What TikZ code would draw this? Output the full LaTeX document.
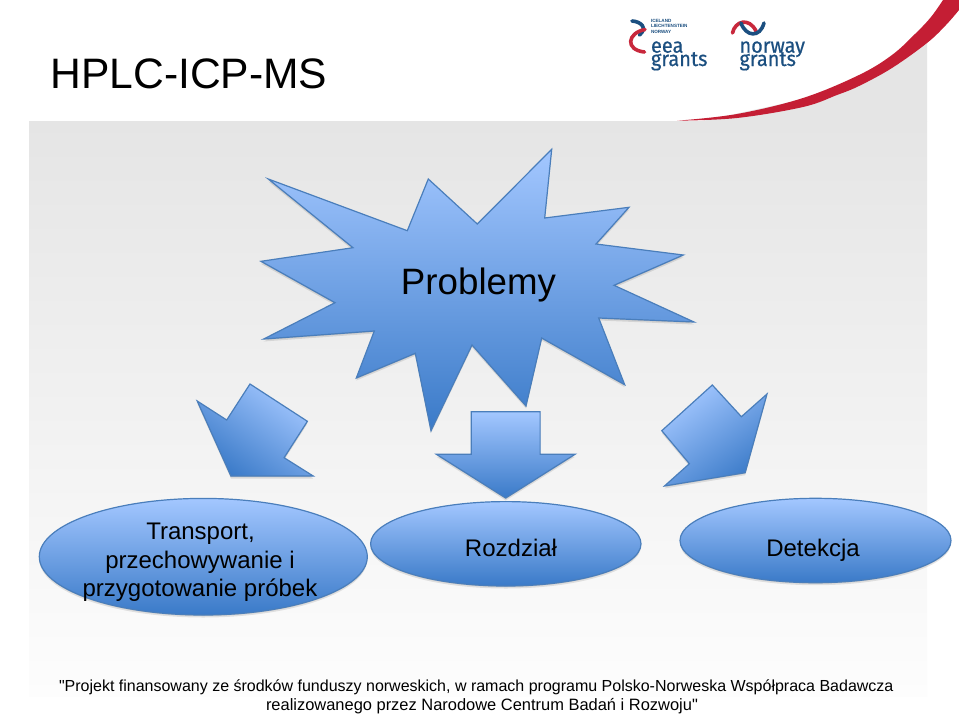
\documentclass[tikz,border=0pt]{standalone}
\usepackage{fontspec}
\setmainfont{Liberation Sans}[Ligatures=TeXOff]
\newfontfamily\logofont[FakeBold=0.5,FakeStretch=0.95]{Fira Sans}
\usetikzlibrary{shapes.geometric}
\definecolor{blueTop}{HTML}{A3C7FF}
\definecolor{blueBot}{HTML}{3A7AC8}
\definecolor{blueLine}{HTML}{4A7EBB}
\definecolor{bgTop}{HTML}{E5E5E5}
\definecolor{bgBot}{HTML}{FDFDFD}
\definecolor{swoosh}{HTML}{C41E34}
\definecolor{logoBlue}{HTML}{1B4F80}
\definecolor{logoRed}{HTML}{C8283C}
\tikzset{
  shapefill/.style={top color=blueTop,bottom color=blueBot,draw=blueLine,line width=1.2pt,line join=miter},
  softshadow/.style={black,opacity=.10},
  txt/.style={inner sep=0pt,outer sep=0pt,text=black,anchor=base},
  txtw/.style={inner sep=0pt,outer sep=0pt,text=black,anchor=base west},
  logotxt/.style={inner sep=0pt,outer sep=0pt,text=logoBlue,anchor=base west},
  arcBlue/.style={draw=logoBlue,line width=3.6pt,line cap=round},
  arcRed/.style={draw=logoRed,line width=3.6pt,line cap=round},
  oval/.style={ellipse,inner sep=0pt,shapefill}
}
\newcommand{\blob}[2]{%
  \fill[softshadow] [yshift=-1pt] #2 -- cycle;
  \fill[softshadow] [yshift=-2.5pt] #2 -- cycle;
  \shade[shapefill,shading angle=#1] #2 -- cycle;
}
\newcommand{\ovalshadow}[3]{%
  \fill[softshadow] (#1) ++(0,1) ellipse (#2 and #3);
  \fill[softshadow] (#1) ++(0,2.5) ellipse (#2 and #3);
}
\begin{document}
\begin{tikzpicture}[x=1pt,y=-1pt]
\useasboundingbox (0,0) rectangle (959,715);
\fill[white] (0,0) rectangle (959,715);
% background
\shade[top color=bgTop,bottom color=bgBot] (29,121) rectangle (927,696);
\fill[bgTop] (700,121.5) -- (800,100) -- (870,75) -- (927,40) -- (927,121.5) -- cycle;
% swoosh
\fill[swoosh] plot[smooth,tension=.6] coordinates {(677,120.7) (737,114) (803,98) (859,75) (892,55) (916,33) (931,17) (943,0)}
  -- (959,0) -- (959,10)
  -- plot[smooth,tension=.6] coordinates {(959,10) (946,25) (927,43) (892,68) (859,86) (837,95) (803,107) (737,118) (677,120.7)} -- cycle;
% title
\node[txtw,font=\fontsize{42.6}{48}\selectfont] (title) at (50.5,88.5) {HPLC-ICP-MS};
% logos
\draw[arcBlue] (632,21) .. controls (641,21.5) and (648,28) .. (639.5,35);
\draw[arcRed] (645,29.5) .. controls (627,33) and (625,50) .. (644.5,52);
\node[logotxt,font=\bfseries\fontsize{4.6}{5.2}\selectfont,align=left] (l1) at (651,33) {ICELAND\\LIECHTENSTEIN\\NORWAY};
\node[logotxt,font=\logofont\fontsize{21}{21}\selectfont,align=left] (eeagrants) at (651,66) {eea\\[-7.7pt]grants};
\draw[arcRed] (732.5,33) .. controls (735,21) and (749,17) .. (756,31);
\draw[arcBlue] (741,23) .. controls (746,37) and (760,38) .. (764,23);
\node[logotxt,font=\logofont\fontsize{21}{21}\selectfont,align=left] (norwaygrants) at (739.5,66) {norway\\[-7.7pt]grants};
% star
\blob{0}{(268.3,179) -- (407.3,230.7) -- (428.3,179) -- (477.3,224) -- (551.7,149.3) -- (544.7,218) -- (629,207.3) -- (596,244) -- (683.3,255) -- (614,285.3) -- (694,322) -- (598.7,318) -- (624.7,384.7) -- (541.7,338) -- (526,406) -- (472,345) -- (431,430.7) -- (415.3,353.3) -- (356.3,378) -- (374.3,331) -- (263.7,339) -- (335,302.7) -- (261,261.3) -- (353,247.7)}
\node[txt,font=\fontsize{36.7}{40}\selectfont] (problemy) at (478.5,294) {Problemy};
% arrows
\blob{-36}{(197.2,401) -- (226.7,420) -- (250,384) -- (307.4,421.3) -- (284.1,457.7) -- (313.2,476) -- (230.9,476)}
\blob{0}{(471.2,411.7) -- (540.1,411.7) -- (540.1,454.3) -- (575,454.3) -- (505.7,498) -- (436.4,454.3) -- (471.2,454.3)}
\blob{36}{(712.3,385) -- (741.4,416.7) -- (767,394) -- (745.2,472.7) -- (664.5,486) -- (689.4,463.7) -- (661.8,430.7)}
% ovals
\ovalshadow{203.3,556.7}{164}{58.3}
\ovalshadow{505.8,543.8}{135.2}{42.2}
\ovalshadow{815.5,540.5}{135.5}{42.2}
\node[oval,minimum width=328pt,minimum height=116.6pt] (transport) at (203.3,556.7) {};
\node[oval,minimum width=270.4pt,minimum height=84.4pt] (rozdzial) at (505.8,543.8) {};
\node[oval,minimum width=271pt,minimum height=84.4pt] (detekcja) at (815.5,540.5) {};
\node[txt,font=\fontsize{24}{28}\selectfont] (t1) at (200.5,539.5) {Transport,};
\node[txt,font=\fontsize{24}{28}\selectfont] (t2) at (200,568) {przechowywanie i};
\node[txt,font=\fontsize{24}{28}\selectfont] (t3) at (200,596.7) {przygotowanie próbek};
\node[txt,font=\fontsize{24}{28}\selectfont] (t4) at (511,556) {Rozdział};
\node[txt,font=\fontsize{24}{28}\selectfont] (t5) at (813,556) {Detekcja};
% footer
\node[txtw,font=\fontsize{16}{19}\selectfont] (f1) at (59,691.7) {"Projekt finansowany ze środków funduszy norweskich, w ramach programu Polsko-Norweska Współpraca Badawcza};
\node[txtw,font=\fontsize{16.45}{19}\selectfont] (f2) at (266,710.7) {realizowanego przez Narodowe Centrum Badań i Rozwoju"};
\end{tikzpicture}
\end{document}
